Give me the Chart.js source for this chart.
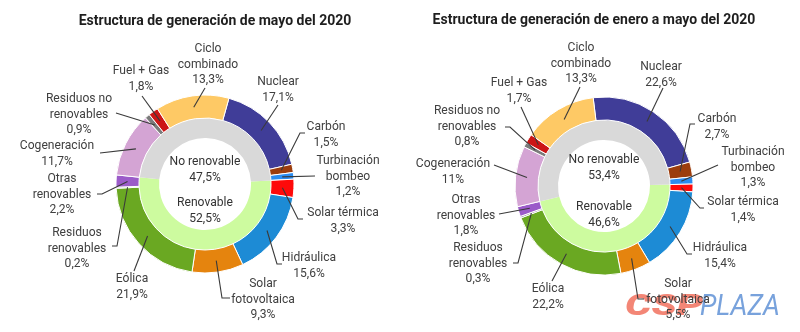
<!DOCTYPE html>
<html lang="es">
<head>
<meta charset="utf-8">
<title>Estructura de generación 2020</title>
<script src="https://cdn.jsdelivr.net/npm/chart.js@4.4.1/dist/chart.umd.min.js"></script>
<style>
  html, body { margin: 0; padding: 0; background: #fff; }
  #wrap { position: relative; width: 800px; height: 332px; overflow: hidden; }
  canvas { position: absolute; top: 0; }
</style>
</head>
<body>
<div id="wrap">
  <canvas id="mayChart" width="400" height="332" style="left:0"></canvas>
  <canvas id="ytdChart" width="400" height="332" style="left:400px"></canvas>
</div>
<script>
// technologies, clockwise starting at Nuclear
const categories = [
  "Nuclear", "Carbón", "Turbinación\nbombeo", "Solar térmica", "Hidráulica",
  "Solar\nfotovoltaica", "Eólica", "Residuos\nrenovables", "Otras\nrenovables",
  "Cogeneración", "Residuos no\nrenovables", "Fuel + Gas", "Ciclo\ncombinado",
];
const mayValues = [17.1, 1.5, 1.2, 3.3, 15.6, 9.3, 21.9, 0.2, 2.2, 11.7, 0.9, 1.8, 13.3];
const ytdValues = [22.6, 2.7, 1.3, 1.4, 15.4, 5.5, 22.2, 0.3, 1.8, 11, 0.8, 1.7, 13.3];

// inner ring
const groupLabels = ["Renovable", "No renovable"];
const mayGroups = [52.5, 47.5];
const ytdGroups = [46.6, 53.4];
// how many technologies (from Nuclear) come before the renewable block
const leadingNonRenewable = 3;

const sliceColors = [
  "#403d98", "#9c3d0d", "#2a8cf0", "#fe0a0a", "#1d8bd5", "#e5840e", "#6aa822",
  "#8f8f8f", "#9b5bc9", "#d4a4d4", "#7b7b7b", "#cc1616", "#fec965",
];
const groupColors = ["#cdfb9f", "#d9d9d9"];

const LABEL_FONT = "13px Roboto";
const LABEL_SX = 0.93;
const LINE_H = 15.3;

const fmt = (v) => String(v).replace(".", ",") + "%";

function drawText(ctx, text, x, y, font, color, sx = 1) {
  ctx.save();
  ctx.font = font;
  ctx.fillStyle = color;
  ctx.textAlign = "center";
  ctx.textBaseline = "middle";
  ctx.translate(x, y);
  ctx.scale(sx, 1);
  ctx.fillText(text, 0, 0);
  ctx.restore();
}

function drawWatermark(ctx, wm) {
  ctx.save();
  ctx.textBaseline = "alphabetic";
  ctx.textAlign = "left";
  ctx.font = "italic 900 29px Roboto";
  let w = ctx.measureText("CSP").width;
  ctx.translate(wm.x, wm.y);
  ctx.save();
  ctx.scale(78 / w, 1);
  ctx.fillStyle = "rgba(240, 104, 84, 0.8)";
  ctx.fillText("CSP", 0, 0);
  ctx.restore();
  ctx.font = "italic 29px Roboto";
  w = ctx.measureText("PLAZA").width;
  ctx.translate(75, 0);
  ctx.scale(80 / w, 1);
  ctx.fillStyle = "rgba(96, 146, 214, 0.85)";
  ctx.fillText("PLAZA", 0, 0);
  ctx.restore();
}

// leader lines, outside labels, ring texts and title
const leaderLabels = {
  id: "leaderLabels",
  afterDatasetsDraw(chart, args, opts) {
    const ctx = chart.ctx;
    const outer = chart.getDatasetMeta(0);
    const values = chart.data.datasets[0].data;

    if (opts.watermark) drawWatermark(ctx, opts.watermark);

    ctx.save();
    ctx.strokeStyle = "#3a3a3a";
    ctx.lineWidth = 1.1;
    outer.data.forEach((arc, i) => {
      const p = opts.placements[i];
      const { x, y, startAngle, endAngle, innerRadius, outerRadius } =
        arc.getProps(["x", "y", "startAngle", "endAngle", "innerRadius", "outerRadius"], true);
      const a = (startAngle + endAngle) / 2;
      const r = (innerRadius + outerRadius) / 2;
      ctx.beginPath();
      ctx.moveTo(x + Math.cos(a) * r, y + Math.sin(a) * r);
      p.path.forEach(([px, py]) => ctx.lineTo(px, py));
      ctx.stroke();

      const lines = categories[i].split("\n").concat(fmt(values[i]));
      lines.forEach((t, k) => drawText(ctx, t, p.x, p.y + k * LINE_H, LABEL_FONT, "#404040", LABEL_SX));
    });
    ctx.restore();

    const inner = chart.getDatasetMeta(1);
    const groups = chart.data.datasets[1].data;
    inner.data.forEach((arc, i) => {
      const cx = arc.x;
      const y0 = opts.groupY[i];
      drawText(ctx, groupLabels[i], cx, y0, LABEL_FONT, "#333", LABEL_SX);
      drawText(ctx, fmt(groups[i]), cx, y0 + LINE_H, LABEL_FONT, "#333", LABEL_SX);
    });

    drawText(ctx, opts.title.text, opts.title.x, opts.title.y, "bold 14px Roboto", "#1e1e1e", 1);
  },
};

function createChart(canvasId, values, groups, rotation, padding, labelOpts) {
  // inner ring starts where the renewable technologies start in the outer ring
  const lead = values.slice(0, leadingNonRenewable).reduce((s, v) => s + v, 0);
  const total = values.reduce((s, v) => s + v, 0);
  const innerRotation = rotation + (lead / total) * 360;

  return new Chart(document.getElementById(canvasId), {
    type: "doughnut",
    data: {
      labels: categories,
      datasets: [
        {
          data: values,
          backgroundColor: sliceColors,
          borderColor: "#fff",
          borderWidth: 1,
          rotation: rotation,
          weight: 23,
        },
        {
          data: groups,
          backgroundColor: groupColors,
          borderColor: groupColors,
          borderWidth: 0,
          rotation: innerRotation,
          weight: 20,
        },
      ],
    },
    options: {
      responsive: false,
      animation: false,
      cutout: "51.7%",
      layout: { padding },
      plugins: {
        legend: { display: false },
        tooltip: { enabled: false },
        leaderLabels: labelOpts,
      },
    },
    plugins: [leaderLabels],
  });
}

createChart("mayChart", mayValues, mayGroups, 15.6,
  { left: 115.5, right: 105.5, top: 94.5, bottom: 58.5 },
  {
    title: { text: "Estructura de generación de mayo del 2020", x: 215, y: 21 },
    groupY: [203, 162],
    placements: [
      { x: 278, y: 82, path: [[278, 105]] },
      { x: 326, y: 127, path: [[300, 133], [305, 133]] },
      { x: 348, y: 161, path: [[315, 176]] },
      { x: 343, y: 213, path: [[298, 219], [303, 219]] },
      { x: 309, y: 258, path: [[277, 264], [282, 264]] },
      { x: 263, y: 284, path: [[222, 298], [230, 298]] },
      { x: 132, y: 279, path: [[134, 271]] },
      { x: 77, y: 233, path: [[117, 246], [112, 246]] },
      { x: 62, y: 179, path: [[102, 194], [97, 194]] },
      { x: 57, y: 146, path: [[100, 153]] },
      { x: 79, y: 99, path: [[116, 113]] },
      { x: 141, y: 71, path: [[142, 96]] },
      { x: 208, y: 49, path: [[205, 88]] },
    ],
  });

createChart("ytdChart", ytdValues, ytdGroups, -7,
  { left: 114.5, right: 106.5, top: 96.5, bottom: 56.5 },
  {
    title: { text: "Estructura de generación de enero a mayo del 2020", x: 194, y: 20 },
    groupY: [207, 160],
    watermark: { x: 225, y: 315 },
    placements: [
      { x: 261, y: 67, path: [[263, 88]] },
      { x: 317, y: 119, path: [[290, 124], [295, 124]] },
      { x: 353, y: 152, path: [[318, 165]] },
      { x: 343, y: 202, path: [[300, 208], [304, 208]] },
      { x: 320, y: 248, path: [[287, 254], [292, 254]] },
      { x: 278, y: 284, path: [[238, 299], [244, 299]] },
      { x: 148, y: 289, path: [[152, 281]] },
      { x: 78, y: 248, path: [[118, 263], [113, 263]] },
      { x: 66, y: 200, path: [[99, 214]] },
      { x: 53, y: 164, path: [[94, 165]] },
      { x: 67, y: 111, path: [[110, 127], [105, 127]] },
      { x: 119, y: 83, path: [[121, 107]] },
      { x: 181, y: 48, path: [[180, 87]] },
    ],
  });
</script>
</body>
</html>
